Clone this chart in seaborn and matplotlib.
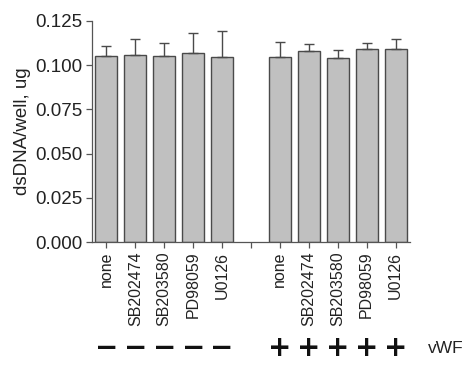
import matplotlib
matplotlib.use("Agg")
import matplotlib.pyplot as plt
import seaborn as sns
import pandas as pd
import numpy as np

# groups: five treatments without vWF, an empty slot, five with vWF
slots = ["none_m", "SB202474_m", "SB203580_m", "PD98059_m", "U0126_m", "gap",
         "none_p", "SB202474_p", "SB203580_p", "PD98059_p", "U0126_p"]
tick_labels = ["none", "SB202474", "SB203580", "PD98059", "U0126", "",
               "none", "SB202474", "SB203580", "PD98059", "U0126"]
bar_slots = [s for s in slots if s != "gap"]
dsdna = [0.1054, 0.1058, 0.1054, 0.1071, 0.1048,
         0.1045, 0.1082, 0.1039, 0.1092, 0.1092]
sem = [0.0055, 0.0092, 0.0072, 0.0109, 0.0144,
       0.0084, 0.0036, 0.0047, 0.0034, 0.0058]
vwf_signs = ["−", "−", "−", "−", "−", "", "+", "+", "+", "+", "+"]

df = pd.DataFrame({"slot": bar_slots, "dsdna": dsdna, "sem": sem})

sns.set_style("ticks")
plt.rcParams["font.family"] = ["Liberation Sans", "DejaVu Sans"]

fig = plt.figure(figsize=(4.74, 3.68), dpi=100)
ax = fig.add_axes([0.194, 0.342, 0.671, 0.601])

sns.barplot(data=df, x="slot", y="dsdna", order=slots, color="#c0c0c0",
            edgecolor="#4a4a4a", linewidth=1.0, width=0.76, errorbar=None,
            saturation=1, ax=ax)

pos = [slots.index(s) for s in bar_slots]
ax.errorbar(pos, df["dsdna"], yerr=[np.zeros(len(sem)), df["sem"]],
            fmt="none", ecolor="#4a4a4a", elinewidth=1.0, capsize=3.5,
            capthick=1.0, zorder=3)

ax.set_xlim(-0.5, 10.5)
ax.set_ylim(0, 0.125)
ax.set_yticks([0, 0.025, 0.05, 0.075, 0.1, 0.125])
ax.set_yticklabels([f"{v:.3f}" for v in ax.get_yticks()], fontsize=13.5, color="#222222")
ax.set_xticks(range(len(slots)))
ax.set_xticklabels(tick_labels, rotation=90, fontsize=11.5, color="#222222")
ax.set_xlabel("")
ax.set_ylabel("dsDNA/well, ug", fontsize=13.5, color="#222222", labelpad=3)
ax.tick_params(axis="both", length=4, width=0.9, color="#555555", pad=3)
sns.despine(ax=ax)
for sp in ["left", "bottom"]:
    ax.spines[sp].set_color("#555555")
    ax.spines[sp].set_linewidth(0.9)

# vWF presence row under the labels
trans = ax.get_xaxis_transform()
for i, s in enumerate(vwf_signs):
    if s:
        ax.text(i, -0.48, s, transform=trans, ha="center", va="center",
                fontsize=20, fontweight="bold", family="DejaVu Sans", color="#111111")
ax.text(11.75, -0.48, "vWF", transform=trans, ha="center", va="center",
        fontsize=12.5, color="#222222")

fig.savefig("out.png", dpi=100)
